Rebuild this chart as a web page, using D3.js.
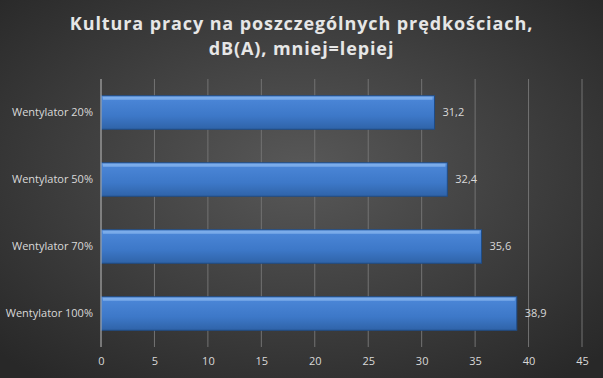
<!DOCTYPE html>
<html>
<head>
<meta charset="utf-8">
<script src="https://cdn.jsdelivr.net/npm/d3@7"></script>
<style>
  body { margin: 0; background: #3c3c3c; }
  svg { display: block; }
</style>
</head>
<body>
<div id="chart"></div>
<script>
const categories = ["Wentylator 20%", "Wentylator 50%", "Wentylator 70%", "Wentylator 100%"];
const values = [31.2, 32.4, 35.6, 38.9];
const xTicks = [0, 5, 10, 15, 20, 25, 30, 35, 40, 45];
const titleLines = ["Kultura pracy na poszczególnych prędkościach,", "dB(A), mniej=lepiej"];

const W = 603, H = 378;
const margin = { top: 79, right: 21, bottom: 31, left: 101 };

const svg = d3.select("#chart").append("svg")
  .attr("width", W).attr("height", H);

const defs = svg.append("defs");
// background radial gradient
const bg = defs.append("radialGradient").attr("id", "bg")
  .attr("cx", "50%").attr("cy", "45%").attr("r", "70%");
bg.append("stop").attr("offset", "0%").attr("stop-color", "#585858");
bg.append("stop").attr("offset", "100%").attr("stop-color", "#282828");

// bar gradient (vertical)
const bar = defs.append("linearGradient").attr("id", "barFill")
  .attr("x1", 0).attr("y1", 0).attr("x2", 0).attr("y2", 1);
bar.append("stop").attr("offset", "0%").attr("stop-color", "#6a9fe6");
bar.append("stop").attr("offset", "12%").attr("stop-color", "#4a85d6");
bar.append("stop").attr("offset", "60%").attr("stop-color", "#3d78c8");
bar.append("stop").attr("offset", "100%").attr("stop-color", "#2f63a8");

svg.append("rect").attr("width", W).attr("height", H).attr("fill", "url(#bg)");

const title = svg.append("text")
  .attr("text-anchor", "middle")
  .attr("font-family", "'Open Sans', sans-serif")
  .attr("font-weight", "bold")
  .attr("font-size", 18)
  .attr("letter-spacing", 0.9)
  .attr("fill", "#e6e6e6");
titleLines.forEach((t, i) => {
  title.append("tspan").attr("x", W / 2).attr("y", 30 + i * 25).text(t);
});

const plotW = W - margin.left - margin.right;
const plotH = H - margin.top - margin.bottom;
const g = svg.append("g").attr("transform", `translate(${margin.left},${margin.top})`);

const x = d3.scaleLinear().domain([0, 45]).range([0, plotW]);
const y = d3.scaleBand().domain(categories).range([0, plotH]).paddingInner(0.5).paddingOuter(0.25);

// gridlines
g.selectAll(".grid").data(xTicks.slice(1)).enter().append("line")
  .attr("x1", d => x(d)).attr("x2", d => x(d))
  .attr("y1", 0).attr("y2", plotH)
  .attr("stroke", "#737373").attr("stroke-width", 1);

// bars
const fmt = v => String(v).replace(".", ",");
g.selectAll(".bar").data(values).enter().append("rect")
  .attr("x", 0)
  .attr("y", (d, i) => y(categories[i]))
  .attr("width", d => x(d))
  .attr("height", y.bandwidth())
  .attr("fill", "url(#barFill)")
  .attr("stroke", "#1f4c86").attr("stroke-width", 1);

// top highlight bevel
g.selectAll(".hl").data(values).enter().append("rect")
  .attr("x", 2)
  .attr("y", (d, i) => y(categories[i]) + 1)
  .attr("width", d => x(d) - 4)
  .attr("height", 3)
  .attr("fill", "#8ab8f0").attr("opacity", 0.7);

// value labels
g.selectAll(".lbl").data(values).enter().append("text")
  .attr("x", d => x(d) + 8)
  .attr("y", (d, i) => y(categories[i]) + y.bandwidth() / 2)
  .attr("dy", "0.35em")
  .attr("font-family", "'Open Sans', sans-serif")
  .attr("font-size", 11)
  .attr("fill", "#d9d9d9")
  .text(d => fmt(d));

// vertical axis line at 0
g.append("line").attr("x1", 0).attr("x2", 0).attr("y1", 0).attr("y2", plotH)
  .attr("stroke", "#bfbfbf").attr("stroke-width", 1);

// y category labels
const yAxis = g.append("g").call(d3.axisLeft(y).tickSize(0).tickPadding(8));
yAxis.select(".domain").remove();
yAxis.selectAll("text")
  .attr("font-family", "'Open Sans', sans-serif")
  .attr("font-size", 11)
  .attr("fill", "#d9d9d9");

// x axis labels
const xAxis = g.append("g").attr("transform", `translate(0,${plotH})`)
  .call(d3.axisBottom(x).tickValues(xTicks).tickSize(0).tickPadding(10));
xAxis.select(".domain").remove();
xAxis.selectAll("text")
  .attr("font-family", "'Open Sans', sans-serif")
  .attr("font-size", 11)
  .attr("fill", "#d9d9d9");
</script>
</body>
</html>
